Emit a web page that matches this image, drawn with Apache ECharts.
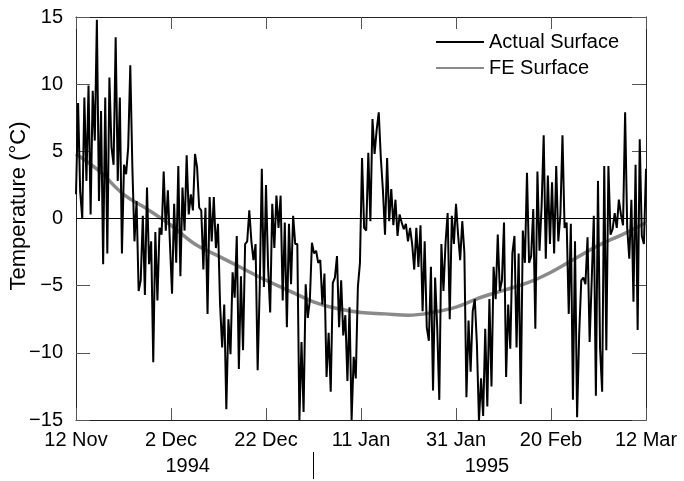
<!DOCTYPE html>
<html>
<head>
<meta charset="utf-8">
<script src="https://cdn.jsdelivr.net/npm/echarts@6/dist/echarts.min.js"></script>
<style>
  html, body { margin: 0; padding: 0; background: #fff; }
  #chart { width: 684px; height: 481px; }
</style>
</head>
<body>
<div id="chart"></div>
<script>
// Surface temperature, 12 Nov 1994 – 12 Mar 1995 (day 0 = 12 Nov)
const periodDays = 120;
const xTickLabels = ['12 Nov', '2 Dec', '22 Dec', '11 Jan', '31 Jan', '20 Feb', '12 Mar'];
const yearLabels = ['1994', '1995'];
const yearLabelDays = [23.5, 86.5];
const yearBoundaryDay = 50;
const yAxisTitle = 'Temperature (\u00B0C)';

// Measured surface temperature (°C), evenly spaced samples over the period
const actualSurface = [
  1.8, 8.6, 2.0, 0.0, 9.0, 2.8, 9.9, 0.3, 9.5, 5.8,
  14.8, 1.3, 8.0, -3.4, 9.0, -2.6, 10.5, 5.3, 4.0, 13.5,
  2.8, 9.0, -2.6, 4.0, 3.3, 5.3, 11.4, 3.8, -1.7, 1.3,
  -5.4, -4.6, 0.2, -5.7, 2.3, -3.4, -1.7, -10.7, -1.0, -6.1,
  -0.7, -1.2, 3.5, -0.9, 2.1, -1.9, -5.6, 1.1, -3.3, 3.9,
  -4.3, 2.3, -0.9, 4.7, 0.3, 1.8, 0.6, 4.8, 3.8, 0.8,
  0.6, -3.8, 0.8, -7.1, 1.6, -1.7, 1.6, -2.2, -0.4, -6.4,
  -9.6, -6.4, -14.2, -7.5, -10.1, -4.0, -5.9, -1.3, -11.2, -4.3,
  -9.8, -1.9, -1.7, 0.6, -1.7, -3.1, -1.9, -11.3, -5.1, 3.7,
  -5.1, 2.5, -3.6, -7.0, 1.1, -2.2, 1.7, -0.7, 1.7, -6.1,
  -0.3, -8.1, -0.4, -4.9, 0.2, -1.9, -1.9, -15.0, -9.2, -14.4,
  -4.9, -7.4, -6.1, -1.8, -2.6, -2.4, -3.3, -3.1, -6.4, -4.1,
  -11.8, -8.5, -12.9, -4.8, -4.4, -2.8, -8.1, -4.6, -8.7, -7.2,
  -12.1, -6.6, -15.0, -10.3, -11.9, -5.1, -3.3, 4.5, -0.7, -0.9,
  4.9, -0.2, 7.4, 4.8, 6.6, 7.9, 4.5, 2.1, -1.2, 4.5,
  -0.2, 2.2, -0.5, 1.4, -1.3, 0.3, -0.3, -0.8, -0.4, -1.7,
  -0.7, -1.9, -3.8, -0.7, -3.6, -0.5, -6.9, -1.7, -8.1, -9.1,
  -3.6, -12.8, -4.4, -8.1, -13.5, -1.9, -5.4, -1.8, 0.4, -7.5,
  0.2, -1.9, 1.1, -1.2, -3.1, -0.2, -2.5, -13.3, -7.6, -11.4,
  -6.9, -6.0, -9.3, -15.1, -11.9, -14.7, -8.2, -14.0, -6.0, -12.5,
  -3.6, -6.0, -1.2, -5.4, -4.6, -0.3, -11.8, -6.4, -9.7, -2.6,
  -1.3, -9.6, -2.6, -13.8, -0.9, -3.3, 3.4, -3.3, -2.8, 0.7,
  -8.2, 3.5, -2.4, 0.9, 6.2, -3.0, 3.2, -1.9, 2.7, -2.6,
  3.9, -1.7, 0.3, 6.2, -0.7, -0.3, -7.1, -0.4, -13.5, -1.7,
  -14.8, -8.6, -4.6, -4.4, -4.9, -1.4, -9.2, -4.6, 0.2, -13.2,
  2.8, -9.7, -12.9, 3.9, -9.8, 3.9, -1.2, -0.8, 0.4, -0.7,
  1.4, 0.3, -0.5, 7.9, -0.7, -3.0, 1.4, -6.2, 4.0, -8.3,
  5.9, -1.3, -1.9, 3.7
];

// Finite-element model surface temperature (°C)
const feDays = [0, 5, 10, 15, 20, 25, 30, 35, 40, 45, 50, 55, 60,
  65, 70, 75, 80, 85, 90, 95, 100, 105, 110, 115, 120];
const feSurface = [4.8, 3.5, 1.8, 0.7, -0.5, -1.9, -2.8, -3.7, -4.6, -5.4, -6.2, -6.7, -7.0,
  -7.1, -7.2, -7.0, -6.6, -5.9, -5.35, -4.8, -4.0, -3.0, -2.0, -1.2, -0.3];

const FONT = '"Liberation Sans", Arial, Helvetica, sans-serif';
const step = periodDays / (actualSurface.length - 1);
const actualData = actualSurface.map((v, i) => [i * step, v]);
const feData = feSurface.map((v, i) => [feDays[i], v]);

const chart = echarts.init(document.getElementById('chart'), null, { renderer: 'canvas' });

const frameLine = { show: true, onZero: false, lineStyle: { color: '#222', width: 1 } };
const minus = v => String(v).replace('-', '\u2212');

chart.setOption({
  animation: false,
  backgroundColor: '#fff',
  textStyle: { fontFamily: FONT },
  grid: { left: 76, right: 38, top: 17, bottom: 61, containLabel: false, outerBoundsMode: 'none' },
  legend: {
    data: ['Actual Surface', 'FE Surface'],
    orient: 'vertical',
    left: 435,
    top: 32,
    padding: 0,
    itemWidth: 48,
    itemHeight: 14,
    itemGap: 6,
    itemStyle: { opacity: 0 },
    textStyle: { fontFamily: FONT, fontSize: 20, color: '#000' }
  },
  xAxis: [
    {
      type: 'value', min: 0, max: periodDays, interval: 20, position: 'bottom',
      axisLine: frameLine,
      axisTick: { show: true, inside: true, length: 12, lineStyle: { color: '#555' } },
      axisLabel: {
        fontFamily: FONT, fontSize: 20, color: '#000', margin: 10,
        formatter: v => xTickLabels[Math.round(v / 20)]
      },
      splitLine: { show: false }
    },
    {
      type: 'value', min: 0, max: periodDays, interval: 20, position: 'top',
      axisLine: frameLine,
      axisTick: { show: true, inside: true, length: 12, lineStyle: { color: '#555' } },
      axisLabel: { show: false },
      splitLine: { show: false }
    }
  ],
  yAxis: [
    {
      type: 'value', min: -15, max: 15, interval: 5, position: 'left',
      axisLine: frameLine,
      axisTick: { show: true, inside: true, length: 14, lineStyle: { color: '#555' } },
      axisLabel: { fontFamily: FONT, fontSize: 20, color: '#000', margin: 13, formatter: minus },
      splitLine: { show: false }
    },
    {
      type: 'value', min: -15, max: 15, interval: 5, position: 'right',
      axisLine: frameLine,
      axisTick: { show: true, inside: true, length: 14, lineStyle: { color: '#555' } },
      axisLabel: { show: false },
      splitLine: { show: false }
    }
  ],
  series: [
    {
      name: 'FE Surface', type: 'line', data: feData,
      smooth: 0.4, showSymbol: false, symbol: 'none',
      lineStyle: { color: '#8a8a8a', width: 3.5 },
      itemStyle: { color: '#8a8a8a' },
      z: 2
    },
    {
      name: 'Actual Surface', type: 'line', data: actualData,
      showSymbol: false, symbol: 'none', clip: true,
      lineStyle: { color: '#000', width: 2 },
      itemStyle: { color: '#000' },
      markLine: {
        silent: true, symbol: 'none', label: { show: false },
        lineStyle: { color: '#000', width: 1, type: 'solid' },
        data: [{ yAxis: 0 }]
      },
      z: 3
    }
  ]
});

// Axis title, year captions under the date labels, split at 1 January
const gx = d => chart.convertToPixel({ xAxisIndex: 0 }, d);
const graphics = yearLabels.map((t, i) => ({
  type: 'text',
  x: gx(yearLabelDays[i]), y: 466,
  style: { text: t, fontFamily: FONT, fontSize: 20, fill: '#000', align: 'center', verticalAlign: 'middle' }
}));
graphics.push({
  type: 'line',
  shape: { x1: gx(yearBoundaryDay), y1: 452, x2: gx(yearBoundaryDay), y2: 479 },
  style: { stroke: '#000', lineWidth: 1 }
});
graphics.push({
  type: 'text',
  x: 19, y: 206, rotation: Math.PI / 2,
  style: { text: yAxisTitle, fontFamily: FONT, fontSize: 22, fill: '#000', align: 'center', verticalAlign: 'middle' }
});
chart.setOption({ graphic: graphics });
</script>
</body>
</html>
